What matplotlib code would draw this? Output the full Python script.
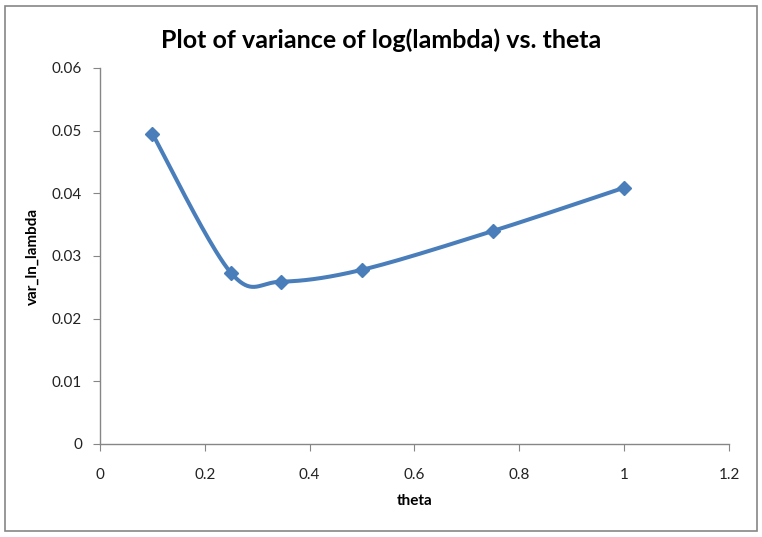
import numpy as np
import matplotlib.pyplot as plt
from matplotlib.patches import Rectangle

theta = [0.1, 0.25, 0.345, 0.5, 0.75, 1.0]
var_ln_lambda = [0.0495, 0.0273, 0.0259, 0.0278, 0.0340, 0.0409]


def catmull_rom(xs, ys, n=40):
    # Excel-style smoothed line through the points
    p = np.column_stack([xs, ys])
    p = np.vstack([p[0], p, p[-1]])
    out = []
    for i in range(1, len(p) - 2):
        p0, p1, p2, p3 = p[i - 1], p[i], p[i + 1], p[i + 2]
        t = np.linspace(0, 1, n)[:, None]
        c1 = p1 + (p2 - p0) / 6
        c2 = p2 - (p3 - p1) / 6
        seg = (1 - t) ** 3 * p1 + 3 * (1 - t) ** 2 * t * c1 + 3 * (1 - t) * t ** 2 * c2 + t ** 3 * p2
        out.append(seg)
    out = np.vstack(out)
    return out[:, 0], out[:, 1]


plt.rcParams['font.family'] = ['Lato', 'DejaVu Sans']

fig = plt.figure(figsize=(7.62, 5.37), dpi=100)
ax = fig.add_axes([0.1312, 0.1732, 0.8255, 0.7002])

blue = '#4A7EBB'
sx, sy = catmull_rom(theta, var_ln_lambda)
ax.plot(sx, sy, color=blue, lw=2.9, solid_capstyle='round')
ax.plot(theta, var_ln_lambda, 'D', color=blue, ms=7.5, mec=blue)

ax.set_xlim(0, 1.2)
ax.set_ylim(0, 0.06)
ax.set_xticks([0, 0.2, 0.4, 0.6, 0.8, 1, 1.2])
ax.set_xticklabels(['0', '0.2', '0.4', '0.6', '0.8', '1', '1.2'])
ax.set_yticks([0, 0.01, 0.02, 0.03, 0.04, 0.05, 0.06])
ax.set_yticklabels(['0', '0.01', '0.02', '0.03', '0.04', '0.05', '0.06'])

for s in ['top', 'right']:
    ax.spines[s].set_visible(False)
for s in ['left', 'bottom']:
    ax.spines[s].set_color('#868686')
    ax.spines[s].set_linewidth(1)
ax.tick_params(direction='out', length=5, color='#868686', labelsize=11, labelcolor='#222222')
ax.tick_params(axis='x', pad=12)
ax.tick_params(axis='y', pad=8)

fig.text(0.5, 0.925, 'Plot of variance of log(lambda) vs. theta', ha='center', va='center',
         fontsize=18, fontweight='bold')
ax.set_xlabel('theta', fontsize=11, fontweight='bold', labelpad=9)
ax.set_ylabel('var_ln_lambda', fontsize=11, fontweight='bold', labelpad=9)

fig.patches.append(Rectangle((0.007, 0.011), 0.986, 0.978, transform=fig.transFigure,
                             fill=False, edgecolor='#868686', lw=1.2))

fig.savefig('out.png', dpi=100)
